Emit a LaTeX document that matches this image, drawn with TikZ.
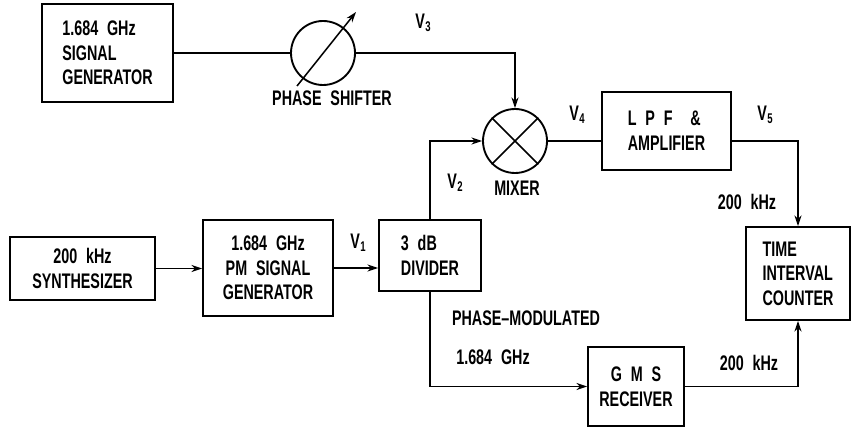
\documentclass[tikz,border=0pt]{standalone}
\usepackage{fontspec}
\setmainfont{Liberation Sans}[FakeStretch=0.68]
\usetikzlibrary{positioning}
\usetikzlibrary{arrows.meta}
\newcommand{\diagfont}{\fontsize{18}{21}\selectfont\bfseries\spaceskip=.42em plus .1em\relax}
\tikzset{my_diagram/.style={x=0.03cm,y=-0.03cm,line width=1.4pt,font=\diagfont}}
\tikzset{my_block/.style 2 args={draw, line width=1.6pt, align=left, inner sep=0pt, minimum width=#1*0.03cm, minimum height=#2*0.03cm}}
\tikzset{my_circle/.style={draw, circle, line width=1.6pt, inner sep=0pt, minimum size=64*0.03cm}}
\tikzset{my_arrow/.style={-{Stealth[length=9pt,width=6pt]}}}
\tikzset{my_label/.style={inner sep=1pt}}
\newcommand{\vsig}[1]{V\kern.5pt\raisebox{-.25ex}{\fontsize{12}{12}\selectfont #1}}

\begin{document}
\begin{tikzpicture}[my_diagram]
    \useasboundingbox (0,0) rectangle (852,428);
    %\draw[help lines,step=50] (0,0) grid (852,428);
    \node[my_block={131}{98}] (siggen) at (107.5,53) {1.684 GHz\\SIGNAL\\GENERATOR};
    \node[my_circle] (shifter) at (323,53) {};
    \node[my_circle] (mixer) at (515,141) {};
    \node[my_block={129}{78}] (lpf) at (666.5,131) {L P F \ \&\\AMPLIFIER};
    \node[my_block={145}{63}, align=center] (synth) at (82.5,268.5) {200 kHz\\SYNTHESIZER};
    \node[my_block={130}{96}, align=center] (pmgen) at (268,268) {1.684 GHz\\PM SIGNAL\\GENERATOR};
    \node[my_block={102}{71}] (divider) at (430,255.5) {3 dB\\DIVIDER};
    \node[my_block={104}{93}] (tic) at (798,273.5) {TIME\\INTERVAL\\COUNTER};
    \node[my_block={96}{79}, align=center] (gms) at (636,386.5) {G M S\\RECEIVER};

    % phase shifter arrow and mixer cross
    \coordinate (shifter_tail) at (297,86);
    \coordinate (shifter_head) at (356,12);
    \draw[my_arrow, line width=1.3pt] (shifter_tail) -- (shifter_head);
    \draw[line width=1.3pt] (mixer.45) -- (mixer.225) (mixer.135) -- (mixer.315);

    % connections
    \draw (siggen) -- (shifter);
    \draw[my_arrow] (shifter.east) -| (mixer.north);
    \draw[my_arrow] (divider.north) |- (mixer.west);
    \draw (mixer.east) -- (mixer.east -| lpf.west);
    \draw[my_arrow] (lpf.east |- mixer.east) -| (tic.north);
    \draw[my_arrow] (synth.east) -- (synth.east -| pmgen.west);
    \draw[my_arrow] (pmgen.east) -- (pmgen.east -| divider.west);
    \draw[my_arrow] (divider.south) |- (gms.west);
    \draw[my_arrow] (gms.east) -| (tic.south);

    % labels
    \node[my_label] (lab_ps) at (332,98) {PHASE SHIFTER};
    \node[my_label] (lab_mix) at (517,188) {MIXER};
    \node[my_label] (lab_v1) at (358,243) {\vsig{1}};
    \node[my_label] (lab_v2) at (455,183) {\vsig{2}};
    \node[my_label] (lab_v3) at (423,23) {\vsig{3}};
    \node[my_label] (lab_v4) at (577,115) {\vsig{4}};
    \node[my_label] (lab_v5) at (765,115) {\vsig{5}};
    \node[my_label] (lab_f1) at (747,202) {200 kHz};
    \node[my_label] (lab_f2) at (749,363) {200 kHz};
    \node[my_label] (lab_pm) at (526,318) {PHASE--MODULATED};
    \node[my_label] (lab_f3) at (493,357) {1.684 GHz};
\end{tikzpicture}
\end{document}
